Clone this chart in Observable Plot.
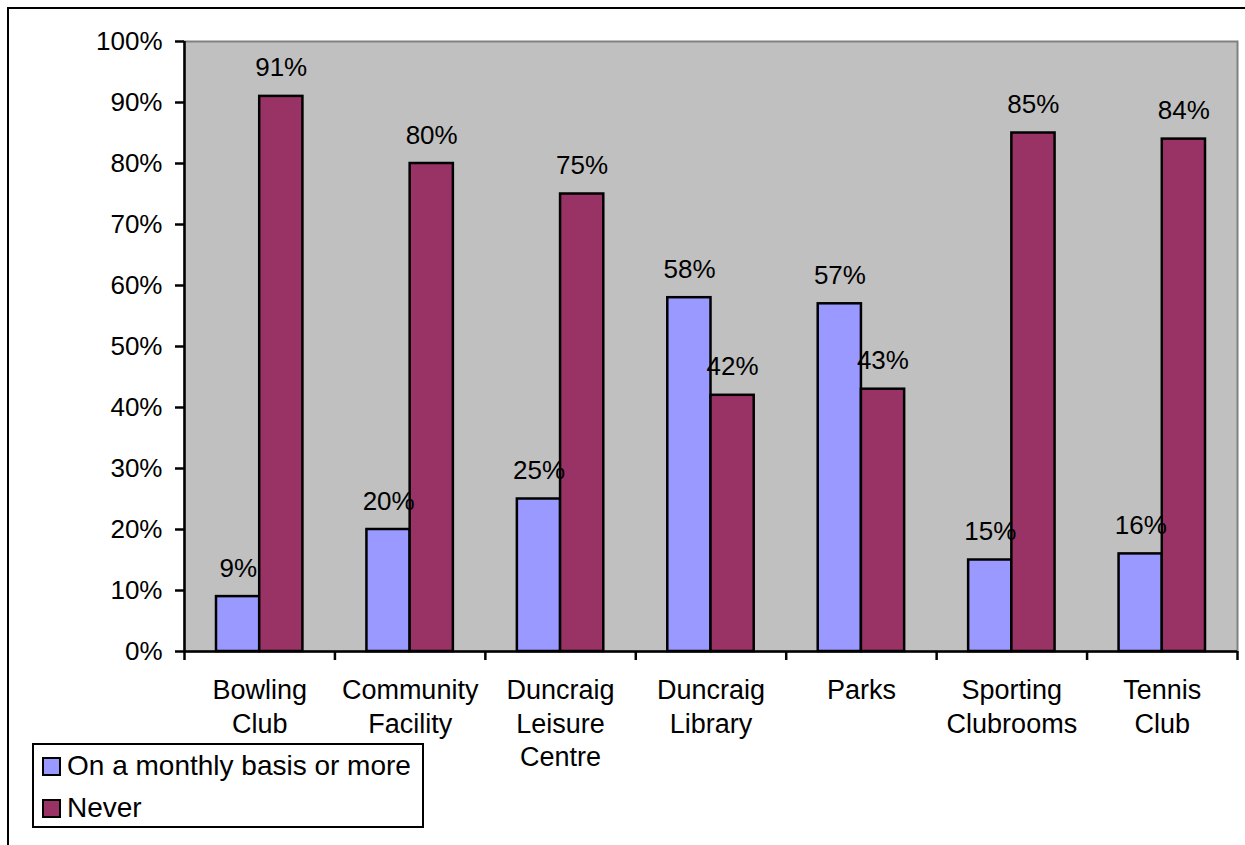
<!DOCTYPE html>
<html>
<head>
<meta charset="utf-8">
<script src="https://cdn.jsdelivr.net/npm/d3@7"></script>
<script src="https://cdn.jsdelivr.net/npm/@observablehq/plot@0.6"></script>
<style>
  html, body { margin: 0; padding: 0; background: #fff; overflow: hidden; }
  #wrap { position: relative; width: 1245px; height: 845px; font-family: Arial, "Liberation Sans", sans-serif; }
  #outer { position: absolute; left: 7px; top: 7px; width: 1400px; height: 1000px; border-left: 2px solid #000; border-top: 2px solid #000; }
  #chart { position: absolute; left: 0; top: 0; }
  #legend { position: absolute; left: 32px; top: 743px; width: 388px; height: 81px; border: 2px solid #000; background: #fff; font-size: 28px; }
  .row { position: absolute; left: 8px; height: 32px; line-height: 32px; display: flex; align-items: center; white-space: nowrap; }
  .sw { width: 15px; height: 15px; border: 2px solid #000; margin-right: 6px; }
</style>
</head>
<body>
<div id="wrap">
  <div id="outer"></div>
  <div id="chart"></div>
  <div id="legend"></div>
</div>
<script>
const categories = ["Bowling\nClub", "Community\nFacility", "Duncraig\nLeisure\nCentre", "Duncraig\nLibrary", "Parks", "Sporting\nClubrooms", "Tennis\nClub"];
const monthly = [0.09, 0.20, 0.25, 0.58, 0.57, 0.15, 0.16];
const never = [0.91, 0.80, 0.75, 0.42, 0.43, 0.85, 0.84];
const seriesNames = ["On a monthly basis or more", "Never"];
const seriesColors = ["#9999FF", "#993366"];
const yTicks = [0, 0.1, 0.2, 0.3, 0.4, 0.5, 0.6, 0.7, 0.8, 0.9, 1.0];

const rows = categories.map((name, i) => ({i, name, monthly: monthly[i], never: never[i]}));
const pct = d3.format(".0%");
const barInset = 32;
const halfBar = 21.5;

const chart = Plot.plot({
  width: 1245,
  height: 845,
  marginLeft: 184,
  marginRight: 8,
  marginTop: 41,
  marginBottom: 194,
  style: {fontFamily: "Arial, 'Liberation Sans', sans-serif", fontSize: "26px", color: "black", background: "transparent", overflow: "visible"},
  x: {type: "linear", domain: [0, categories.length], axis: null},
  y: {type: "linear", domain: [0, 1], axis: null},
  marks: [
    Plot.frame({fill: "#C0C0C0", stroke: "#808080", strokeWidth: 2}),
    Plot.rectY(rows, {x1: d => d.i, x2: d => d.i + 0.5, y1: 0, y2: d => d.monthly, fill: seriesColors[0], stroke: "black", strokeWidth: 2.5, insetLeft: barInset, insetRight: 0}),
    Plot.rectY(rows, {x1: d => d.i + 0.5, x2: d => d.i + 1, y1: 0, y2: d => d.never, fill: seriesColors[1], stroke: "black", strokeWidth: 2.5, insetLeft: 0, insetRight: barInset}),
    Plot.ruleX([0], {stroke: "black", strokeWidth: 2.5}),
    Plot.ruleY([0], {stroke: "black", strokeWidth: 2.5}),
    Plot.axisY({ticks: yTicks, tickFormat: pct, tickSize: 9, tickPadding: 13, fontSize: 26, strokeWidth: 2.5, label: null}),
    Plot.axisX({ticks: d3.range(0, categories.length + 1), tickFormat: () => "", tickSize: 9, strokeWidth: 2.5, label: null}),
    Plot.text(rows, {x: d => d.i + 0.5, y: () => 0, text: "name", lineAnchor: "top", dy: 24, lineHeight: 1.24, fontSize: 27, fill: "black"}),
    Plot.text(rows, {x: d => d.i + 0.5, y: d => d.monthly, text: d => pct(d.monthly), lineAnchor: "bottom", dx: -halfBar, dy: -20, fontSize: 26, fill: "black"}),
    Plot.text(rows, {x: d => d.i + 0.5, y: d => d.never, text: d => pct(d.never), lineAnchor: "bottom", dx: halfBar, dy: -20, fontSize: 26, fill: "black"})
  ]
});
document.getElementById("chart").appendChild(chart);

const legend = document.getElementById("legend");
seriesNames.forEach((name, k) => {
  const row = document.createElement("div");
  row.className = "row";
  row.style.top = (k === 0 ? 5 : 47) + "px";
  const sw = document.createElement("div");
  sw.className = "sw";
  sw.style.background = seriesColors[k];
  const label = document.createElement("span");
  label.textContent = name;
  row.appendChild(sw);
  row.appendChild(label);
  legend.appendChild(row);
});
</script>
</body>
</html>
